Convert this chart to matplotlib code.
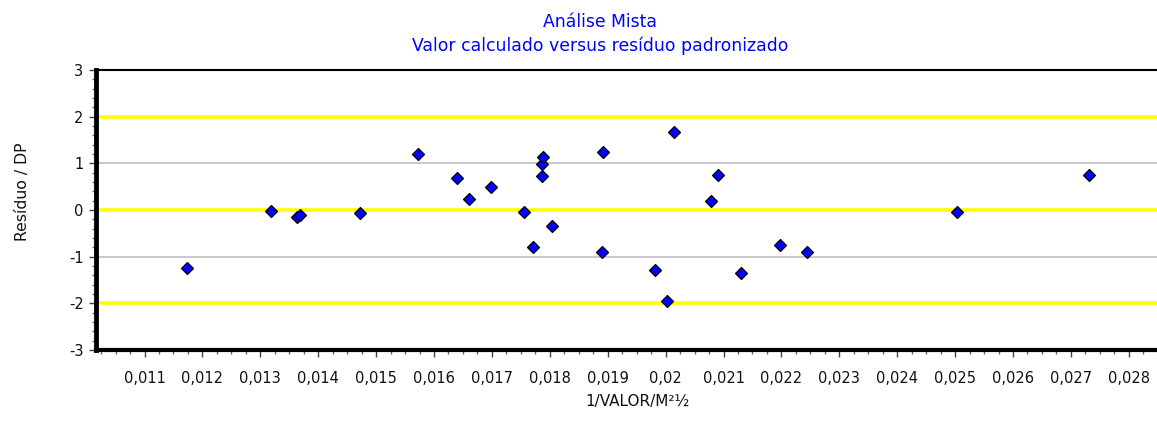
import matplotlib
matplotlib.use("Agg")
import matplotlib.pyplot as plt
from matplotlib.ticker import FuncFormatter, MultipleLocator

plt.rcParams["font.family"] = ["DejaVu Sans"]

# values
x_vals = [0.011729, 0.013185, 0.013639, 0.013686, 0.014722, 0.015724,
          0.016392, 0.016604, 0.016979, 0.017549, 0.017705, 0.017860,
          0.017860, 0.017888, 0.018038, 0.018926, 0.020148, 0.020912,
          0.020788, 0.025028, 0.027313, 0.018900, 0.019813, 0.020031,
          0.021306, 0.021971, 0.022437]
residuals = [-1.247, -0.032, -0.154, -0.103, -0.075, 1.204,
             0.681, 0.231, 0.489, -0.039, -0.797, 0.718,
             0.975, 1.131, -0.339, 1.253, 1.667, 0.754,
             0.189, -0.039, 0.754, -0.904, -1.290, -1.954,
             -1.354, -0.746, -0.904]
yellow_levels = [-2, 0, 2]
gray_levels = [-1, 1]

title_lines = ["Análise Mista", "Valor calculado versus resíduo padronizado"]
x_label = "1/VALOR/M²½"
y_label = "Resíduo / DP"

W, H = 1157, 423
fig = plt.figure(figsize=(W / 100, H / 100), dpi=100)
ax = fig.add_axes([96 / W, 1 - 350 / H, 1 - 96 / W, 280 / H])

for lv in yellow_levels:
    ax.axhline(lv, color="#ffff00", lw=2.6, zorder=1)
for lv in gray_levels:
    ax.axhline(lv, color="#c8c8c8", lw=1.4, zorder=1)

ax.plot(x_vals, residuals, "D", color="#0000ff", mec="black", mew=0.9,
        ms=6.5, ls="none", zorder=3)

ax.set_xlim(0.010162, 0.028487)
ax.set_ylim(-3, 3)

ax.xaxis.set_major_locator(MultipleLocator(0.001))
ax.xaxis.set_minor_locator(MultipleLocator(0.00025))
ax.yaxis.set_major_locator(MultipleLocator(1))
ax.yaxis.set_minor_locator(MultipleLocator(0.2))
ax.xaxis.set_major_formatter(FuncFormatter(
    lambda v, p: ("%.3f" % v).rstrip("0").replace(".", ",")))
ax.yaxis.set_major_formatter(FuncFormatter(lambda v, p: "%d" % round(v)))

ax.tick_params(axis="both", which="major", direction="out", length=5,
               width=1.0, color="#444444", labelsize=10.5, labelcolor="#111111")
ax.tick_params(axis="both", which="minor", direction="out", length=3,
               width=1.0, color="#666666")
ax.tick_params(axis="x", pad=10)
ax.tick_params(axis="y", pad=4)

ax.spines["left"].set_linewidth(3.5)
ax.spines["bottom"].set_linewidth(3.0)
ax.spines["top"].set_linewidth(1.5)
ax.spines["right"].set_visible(False)
for sp in ("left", "bottom", "top"):
    ax.spines[sp].set_color("black")

fig.text(600 / W, 1 - 22 / H, title_lines[0], ha="center", va="center",
         color="#0000ff", fontsize=12.4)
fig.text(600 / W, 1 - 46 / H, title_lines[1], ha="center", va="center",
         color="#0000ff", fontsize=12.4)
fig.text(637 / W, 1 - 401 / H, x_label, ha="center", va="center",
         color="#111111", fontsize=11)
fig.text(23 / W, 1 - 192 / H, y_label, ha="center", va="center",
         rotation=90, color="#111111", fontsize=11.3)

fig.savefig("out.png", dpi=100, facecolor="white")
